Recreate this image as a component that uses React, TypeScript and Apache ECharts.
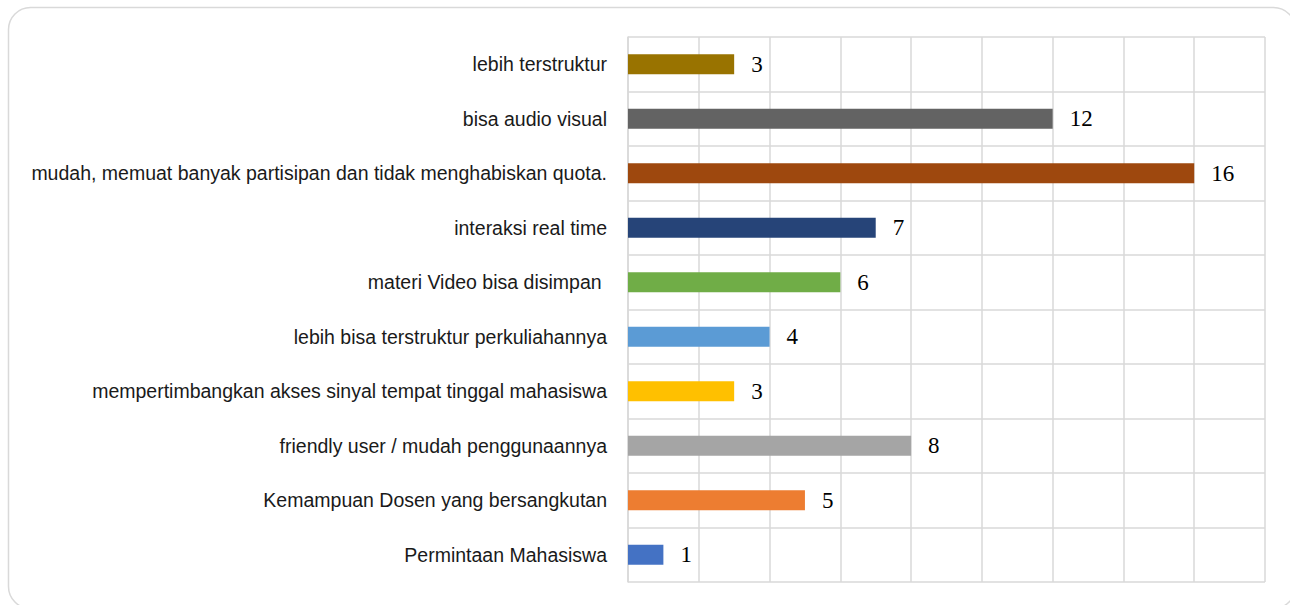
import React, { useEffect, useRef } from "react";
import * as echarts from "echarts";

const categories = [
  "Permintaan Mahasiswa",
  "Kemampuan Dosen yang bersangkutan",
  "friendly user / mudah penggunaannya",
  "mempertimbangkan akses sinyal tempat tinggal mahasiswa",
  "lebih bisa terstruktur perkuliahannya",
  "materi Video bisa disimpan ",
  "interaksi real time",
  "mudah, memuat banyak partisipan dan tidak menghabiskan quota.",
  "bisa audio visual",
  "lebih terstruktur",
];
const values = [1, 5, 8, 3, 4, 6, 7, 16, 12, 3];
const colors = [
  "#4472C4",
  "#ED7D31",
  "#A5A5A5",
  "#FFC000",
  "#5B9BD5",
  "#70AD47",
  "#264478",
  "#9E480E",
  "#636363",
  "#997300",
];

export default function App() {
  const ref = useRef<HTMLDivElement>(null);
  useEffect(() => {
    if (!ref.current) return;
    const chart = echarts.init(ref.current, null, { renderer: "svg" });
    chart.setOption({
      animation: false,
      backgroundColor: "#ffffff",
      graphic: [
        {
          type: "rect",
          shape: { x: 8.5, y: 7.5, width: 1287, height: 601, r: 22 },
          style: { fill: "none", stroke: "#d9d9d9", lineWidth: 1.5 },
          silent: true,
        },
      ],
      grid: { left: 628, right: 25, top: 37, bottom: 23, containLabel: false },
      xAxis: {
        type: "value",
        min: 0,
        max: 18,
        interval: 2,
        axisLabel: { show: false },
        axisLine: { show: false },
        axisTick: { show: false },
        splitLine: { show: true, lineStyle: { color: "#d9d9d9", width: 1.5 } },
      },
      yAxis: {
        type: "category",
        data: categories,
        axisLine: { show: true, lineStyle: { color: "#d9d9d9", width: 1.5 } },
        axisTick: { show: false },
        splitLine: { show: true, lineStyle: { color: "#d9d9d9", width: 1.5 } },
        axisLabel: {
          margin: 21,
          color: "#1a1a1a",
          fontFamily: "Liberation Sans, Arial, sans-serif",
          fontSize: 19.5,
        },
      },
      series: [
        {
          type: "bar",
          data: values.map((v, i) => ({ value: v, itemStyle: { color: colors[i] } })),
          barWidth: 20,
          label: {
            show: true,
            position: "right",
            distance: 17,
            color: "#000000",
            fontFamily: "Liberation Serif, Times New Roman, serif",
            fontSize: 23,
          },
        },
      ],
    });
    return () => chart.dispose();
  }, []);
  return (
    <div
      ref={ref}
      style={{ position: "fixed", left: 0, top: 0, width: 1290, height: 605 }}
    />
  );
}
